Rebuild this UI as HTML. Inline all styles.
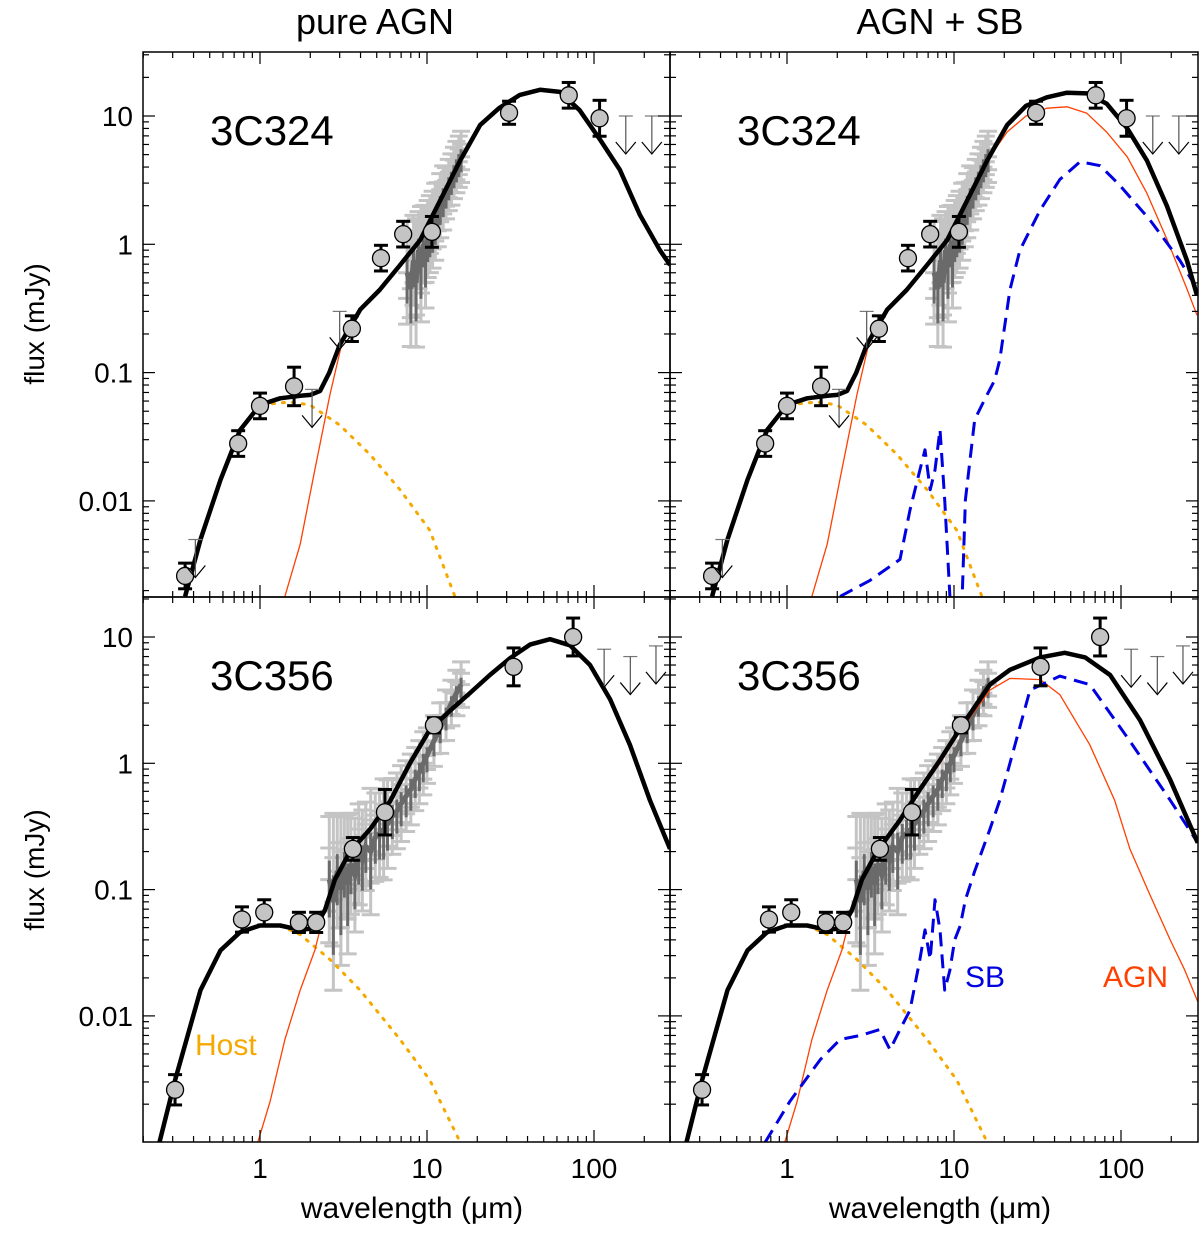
<!DOCTYPE html>
<html><head><meta charset="utf-8"><style>
body{margin:0;background:#fff;}
svg{display:block;font-family:"Liberation Sans",Arial,sans-serif;}
</style></head><body>
<svg id="chart" width="1200" height="1236" viewBox="0 0 1200 1236" xmlns="http://www.w3.org/2000/svg">
<defs>
<clipPath id="cTL"><rect x="143" y="52" width="527" height="545"/></clipPath>
<clipPath id="cTR"><rect x="670" y="52" width="528" height="545"/></clipPath>
<clipPath id="cBL"><rect x="143" y="597" width="527" height="545"/></clipPath>
<clipPath id="cBR"><rect x="670" y="597" width="528" height="545"/></clipPath>
</defs>
<text x="375" y="34" font-size="36" text-anchor="middle">pure AGN</text>
<text x="940" y="34" font-size="36" text-anchor="middle">AGN + SB</text>
<text transform="translate(44,324) rotate(-90)" font-size="28" text-anchor="middle">flux (mJy)</text>
<text transform="translate(44,870) rotate(-90)" font-size="28" text-anchor="middle">flux (mJy)</text>
<text x="412" y="1218" font-size="30" text-anchor="middle">wavelength (μm)</text>
<text x="940" y="1218" font-size="30" text-anchor="middle">wavelength (μm)</text>
<g id="plots"></g>
</svg>
<script>
// ---------- data ----------
const topBlackLam=[0.356,0.44,0.58,0.76,1,1.32,1.74,2.0,2.29,2.6,3.0,3.98,5.2,6.9,9.1,12,15.8,20.8,27,36,47.5,62.5,82,109,143,188,248,285];
const topBlackFlux=[0.0018,0.005,0.0146,0.0357,0.056,0.063,0.066,0.067,0.072,0.1,0.164,0.31,0.44,0.69,1.08,2.2,4.5,8.5,11.5,14.6,16.0,15.4,11.1,6.5,3.8,1.7,0.9,0.69];
const topBlackRFlux=[0.0018,0.005,0.0146,0.0357,0.056,0.063,0.066,0.067,0.072,0.1,0.164,0.31,0.44,0.69,1.08,2.2,4.5,8.5,12,14,15.2,15,12.5,8,4.5,2.0,0.75,0.4];
const topHostLam=[0.356,0.44,0.58,0.76,1,1.51,1.99,3.0,4.56,6.9,10.4,14.7];
const topHostFlux=[0.0018,0.005,0.0146,0.0357,0.056,0.059,0.056,0.039,0.023,0.0122,0.0059,0.0018];
const topAgnLam=[1.41,1.74,2.13,2.62,3.23,3.98,5.2,6.9,9.1,12,15.8,20.8,27,36,47.5,62.5,82,109,143,188,248,285];
const topAgnFlux=[0.0018,0.0046,0.0174,0.067,0.215,0.31,0.44,0.69,1.08,2.2,4.5,8.5,11.5,14.6,16.0,15.4,11.1,6.5,3.8,1.7,0.9,0.69];
const topAgnRFlux=[0.0018,0.0046,0.0174,0.067,0.215,0.31,0.44,0.69,1.08,2.2,4.5,7.5,10,11.5,11.8,10.5,7.5,4.8,2.5,1.1,0.45,0.28];
const topSbLam=[2.08,3.14,4.75,5.45,6.25,6.7,7.2,7.7,8.25,8.8,9.45,10.1,11.2,11.7,13.3,15.3,17.5,18.8,21.6,24.8,32.8,43,57,75,98,149,225,288];
const topSbFlux=[0.0018,0.0024,0.0035,0.0085,0.0174,0.025,0.0122,0.0174,0.036,0.0102,0.0018,0.0008,0.0018,0.0102,0.043,0.062,0.087,0.126,0.44,0.9,1.85,3.2,4.4,4.1,2.9,1.55,0.75,0.44];
const topPtLam=[0.356,0.74,1.0,1.6,3.55,5.3,7.2,10.7,31,70.6,108];
const topPtFlux=[0.0026,0.028,0.055,0.078,0.22,0.78,1.2,1.25,10.6,14.5,9.6];
const topPtErr=[0.1,0.1,0.1,0.15,0.1,0.1,0.1,0.12,0.09,0.1,0.14];
const topLimLam=[0.41,2.05,3.0,155,222];
const topLimFlux=[0.005,0.074,0.3,10,10];
const topSpecLam=[7.6,8.0,8.3,8.6,8.9,9.2,9.5,9.8,10.1,10.4,10.8,11.2,11.6,12,12.5,13,13.5,14,14.5,15,15.5,16];
const topSpecFlux=[0.6,0.45,0.75,0.5,0.9,0.7,1.0,0.8,1.1,1.2,1.3,1.5,1.7,2.0,2.3,2.5,2.9,3.2,3.6,4.0,4.4,4.8];
const topSpecErr=[0.4,0.45,0.35,0.5,0.3,0.45,0.3,0.4,0.3,0.3,0.3,0.3,0.25,0.25,0.25,0.2,0.2,0.2,0.2,0.2,0.2,0.2];

const botBlackLam=[0.25,0.31,0.44,0.58,0.76,1,1.32,1.74,2.13,2.45,2.81,3.46,4.56,6.0,7.9,10.4,13.7,18.1,23.8,31.4,41.4,54.5,71.8,94.6,125,164,216,285];
const botBlackFlux=[0.001,0.0031,0.016,0.033,0.046,0.052,0.052,0.048,0.0495,0.069,0.12,0.2,0.3,0.5,1.0,1.85,2.6,3.6,5.0,6.8,8.7,9.6,8.6,6.0,3.2,1.4,0.51,0.21];
const botBlackRLam=[0.25,0.31,0.44,0.58,0.76,1,1.32,1.74,2.13,2.45,2.81,3.46,4.75,6.25,8.25,11.2,16.4,21.6,32.8,46,61,86,130,197,288];
const botBlackRFlux=[0.001,0.0031,0.016,0.033,0.046,0.052,0.052,0.048,0.0495,0.069,0.12,0.2,0.356,0.62,1.06,2.0,4.2,5.5,6.9,7.5,6.9,5.0,2.2,0.74,0.235];
const botHostLam=[0.25,0.31,0.44,0.58,0.76,1,1.32,1.74,2.62,3.97,6.9,10.4,15.8];
const botHostFlux=[0.001,0.0031,0.016,0.033,0.046,0.052,0.052,0.044,0.028,0.016,0.0065,0.0031,0.001];
const botAgnLam=[0.97,1.15,1.41,1.74,2.13,2.45,2.81,3.46,4.56,6.0,7.9,10.4,13.7,18.1,23.8,31.4,41.4,54.5,71.8,94.6,125,164,216,285];
const botAgnFlux=[0.001,0.0021,0.0065,0.016,0.033,0.069,0.12,0.2,0.3,0.5,1.0,1.85,2.6,3.6,5.0,6.8,8.7,9.6,8.6,6.0,3.2,1.4,0.51,0.21];
const botAgnRLam=[0.97,1.15,1.41,1.74,2.13,2.45,2.81,3.46,4.75,6.25,8.25,11.2,16.4,21.6,32.8,43,65,91.6,113,149,197,241,288];
const botAgnRFlux=[0.001,0.0021,0.0065,0.016,0.033,0.069,0.12,0.2,0.356,0.6,1.0,1.9,3.8,4.7,4.6,3.5,1.4,0.51,0.21,0.091,0.04,0.023,0.013];
const botSbLam=[0.74,1.04,1.58,2.08,2.74,3.6,4.14,4.75,5.45,6.25,6.7,7.2,7.7,8.25,8.8,9.45,10.1,10.9,11.7,13.3,16.4,18.8,28.5,43,65,113,197,288];
const botSbFlux=[0.001,0.0021,0.0045,0.0065,0.007,0.0078,0.0054,0.0078,0.0111,0.028,0.048,0.028,0.083,0.048,0.016,0.023,0.04,0.052,0.083,0.14,0.3,0.51,3.8,4.9,4.2,1.5,0.51,0.235];
const botPtLam=[0.31,0.78,1.06,1.71,2.17,3.6,5.6,11,33,75];
const botPtFlux=[0.0026,0.058,0.066,0.055,0.055,0.21,0.41,2.0,5.8,10];
const botPtErr=[0.12,0.1,0.1,0.08,0.08,0.09,0.18,0.06,0.15,0.15];
const botLimLam=[115,165,235];
const botLimFlux=[8,7,8.5];
const botSpecLam=[2.6,2.75,2.9,3.05,3.2,3.35,3.5,3.7,3.9,4.1,4.3,4.6,4.9,5.2,5.5,5.8,6.2,6.6,7.0,7.5,8.0,8.5,9.0,9.5,10,11,12,13,14,15,16];
const botSpecFlux=[0.12,0.08,0.14,0.1,0.15,0.11,0.16,0.13,0.19,0.17,0.22,0.2,0.26,0.28,0.3,0.33,0.38,0.42,0.48,0.55,0.62,0.75,0.85,1.0,1.15,1.5,1.9,2.4,3.0,3.6,4.2];
const botSpecErr=[0.5,0.7,0.45,0.6,0.4,0.55,0.4,0.45,0.4,0.4,0.35,0.5,0.35,0.35,0.4,0.35,0.3,0.3,0.3,0.28,0.28,0.25,0.25,0.25,0.22,0.2,0.2,0.2,0.18,0.18,0.18];

// ---------- drawing ----------
const NS='http://www.w3.org/2000/svg';
const root=document.getElementById('plots');
function mk(tag,attrs,parent){const e=document.createElementNS(NS,tag);for(const k in attrs)e.setAttribute(k,attrs[k]);(parent||root).appendChild(e);return e;}
const panels={
 TL:{x0:143,x1:670,y0:52,y1:597,one:260,ten:116,dec:128.3},
 TR:{x0:670,x1:1198,y0:52,y1:597,one:787,ten:116,dec:128.3},
 BL:{x0:143,x1:670,y0:597,y1:1142,one:260,ten:637,dec:126.3},
 BR:{x0:670,x1:1198,y0:597,y1:1142,one:787,ten:637,dec:126.3}};
const XD=167;
function xs(p,l){return p.one+XD*Math.log10(l);}
function ys(p,f){return p.ten+p.dec*(1-Math.log10(f));}
function line(p,g,lam,flux,style,name){
 const pts=lam.map((l,i)=>xs(p,l).toFixed(1)+','+ys(p,flux[i]).toFixed(1)).join(' ');
 const e=mk('polyline',Object.assign({points:pts,fill:'none','stroke-linejoin':'round'},style),g);
 
 
}
function spectrum(p,g,lam,flux,err,name){
 const sg=mk('g',{},g);
 
 
 lam.forEach((l,i)=>{
  const x=xs(p,l);
  const yt=ys(p,flux[i]*Math.pow(10,err[i])),yb=ys(p,flux[i]/Math.pow(10,err[i]));
  mk('line',{x1:x,x2:x,y1:yt,y2:yb,stroke:'#c4c4c4','stroke-width':3},sg);
  for(let k=0;k<=4;k++){const yy=yt+(yb-yt)*k/4;
   mk('line',{x1:x-9,x2:x+9,y1:yy,y2:yy,stroke:'#c4c4c4','stroke-width':3},sg);}
 });
 const inner=lam.map((l,i)=>xs(p,l).toFixed(1)+','+ys(p,flux[i]).toFixed(1)).join(' ');
 mk('polyline',{points:inner,fill:'none',stroke:'#6a6a6a','stroke-width':5},sg);
 lam.forEach((l,i)=>{const x=xs(p,l);mk('line',{x1:x,x2:x,y1:ys(p,flux[i]*Math.pow(10,err[i]*0.3)),y2:ys(p,flux[i]/Math.pow(10,err[i]*0.6)),stroke:'#6a6a6a','stroke-width':3},sg);});
}
function points(p,g,lam,flux,err,name){
 lam.forEach((l,i)=>{
  const x=xs(p,l),y=ys(p,flux[i]);
  const pg=mk('g',{},g);
  
  
  const yt=ys(p,flux[i]*Math.pow(10,err[i])),yb=ys(p,flux[i]/Math.pow(10,err[i]));
  mk('line',{x1:x,x2:x,y1:yt,y2:yb,stroke:'#000','stroke-width':3},pg);
  mk('line',{x1:x-7,x2:x+7,y1:yt,y2:yt,stroke:'#000','stroke-width':3},pg);
  mk('line',{x1:x-7,x2:x+7,y1:yb,y2:yb,stroke:'#000','stroke-width':3},pg);
  mk('circle',{cx:x,cy:y,r:8.5,fill:'#c4c4c4',stroke:'#000','stroke-width':1.3},pg);
 });
}
function limits(p,g,lam,flux,name){
 lam.forEach((l,i)=>{
  const x=xs(p,l),y=ys(p,flux[i]);
  const lg=mk('g',{},g);
  
  
  mk('line',{x1:x-7,x2:x+7,y1:y,y2:y,stroke:'#777','stroke-width':1.2},lg);
  mk('line',{x1:x,x2:x,y1:y,y2:y+38,stroke:'#555','stroke-width':1.2},lg);
  mk('polyline',{points:`${x-10},${y+26} ${x},${y+38} ${x+10},${y+26}`,fill:'none',stroke:'#000','stroke-width':1.2},lg);
 });
}
function axes(p,key,g){
 const ax=mk('g',{},g);
 
 
 mk('rect',{x:p.x0,y:p.y0,width:p.x1-p.x0,height:p.y1-p.y0,fill:'none',stroke:'#000','stroke-width':1.5},ax);
 for(let d=-1;d<=2;d++)for(let m=1;m<=9;m++){
  const x=xs(p,m*Math.pow(10,d));if(x<p.x0||x>p.x1)continue;
  const L=m==1?12:6;
  mk('line',{x1:x,x2:x,y1:p.y1,y2:p.y1-L,stroke:'#000','stroke-width':1.2},ax);
  mk('line',{x1:x,x2:x,y1:p.y0,y2:p.y0+L,stroke:'#000','stroke-width':1.2},ax);
 }
 for(let d=-4;d<=1;d++)for(let m=1;m<=9;m++){
  const y=ys(p,m*Math.pow(10,d));if(y<p.y0||y>p.y1)continue;
  const L=m==1?12:6;
  mk('line',{x1:p.x0,x2:p.x0+L,y1:y,y2:y,stroke:'#000','stroke-width':1.2},ax);
  mk('line',{x1:p.x1,x2:p.x1-L,y1:y,y2:y,stroke:'#000','stroke-width':1.2},ax);
 }
}
const xTicks=[1,10,100],xTickLabels=['1','10','100'];
const yTicks=[10,1,0.1,0.01],yTickLabels=['10','1','0.1','0.01'];

function panel(key,o){
 const p=panels[key];
 const g=mk('g',{'clip-path':'url(#c'+key+')'});
 
 
 spectrum(p,g,o.specLam,o.specFlux,o.specErr,'irs-spectrum');
 line(p,g,o.hostLam,o.hostFlux,{stroke:'#f5a800','stroke-width':3,'stroke-dasharray':'2 8','stroke-linecap':'round'},'host-curve');
 line(p,g,o.agnLam,o.agnFlux,{stroke:'#ff4000','stroke-width':1.3},'agn-curve');
 if(o.sbLam)line(p,g,o.sbLam,o.sbFlux,{stroke:'#0000e0','stroke-width':3,'stroke-dasharray':'14 8'},'sb-curve');
 line(p,g,o.blackLam,o.blackFlux,{stroke:'#000','stroke-width':4.5},'total-model-curve');
 points(p,g,o.ptLam,o.ptFlux,o.ptErr,'photometry-point');
 limits(p,g,o.limLam,o.limFlux,'upper-limit');
 axes(p,key,root);
 const t=mk('text',{x:p.x0+67,y:p.y0+93,'font-size':42});
 t.textContent=o.label;
 
 
 if(key[1]=='L'){
  yTicks.forEach((v,i)=>{const y=ys(p,v);if(y<p.y0+5||y>p.y1-5)return;
   const tt=mk('text',{x:p.x0-10,y:y+10,'font-size':28,'text-anchor':'end'});tt.textContent=yTickLabels[i];
   
   });
 }
 if(key[0]=='B'){
  xTicks.forEach((v,i)=>{const tt=mk('text',{x:xs(p,v),y:p.y1+36,'font-size':28,'text-anchor':'middle'});tt.textContent=xTickLabels[i];
   
   });
 }
}
const topCommon={specLam:topSpecLam,specFlux:topSpecFlux,specErr:topSpecErr,hostLam:topHostLam,hostFlux:topHostFlux,ptLam:topPtLam,ptFlux:topPtFlux,ptErr:topPtErr,limLam:topLimLam,limFlux:topLimFlux,label:'3C324'};
panel('TL',Object.assign({},topCommon,{agnLam:topAgnLam,agnFlux:topAgnFlux,blackLam:topBlackLam,blackFlux:topBlackFlux}));
panel('TR',Object.assign({},topCommon,{agnLam:topAgnLam,agnFlux:topAgnRFlux,blackLam:topBlackLam,blackFlux:topBlackRFlux,sbLam:topSbLam,sbFlux:topSbFlux}));
const botCommon={specLam:botSpecLam,specFlux:botSpecFlux,specErr:botSpecErr,hostLam:botHostLam,hostFlux:botHostFlux,ptLam:botPtLam,ptFlux:botPtFlux,ptErr:botPtErr,limLam:botLimLam,limFlux:botLimFlux,label:'3C356'};
panel('BL',Object.assign({},botCommon,{agnLam:botAgnLam,agnFlux:botAgnFlux,blackLam:botBlackLam,blackFlux:botBlackFlux}));
panel('BR',Object.assign({},botCommon,{agnLam:botAgnRLam,agnFlux:botAgnRFlux,blackLam:botBlackRLam,blackFlux:botBlackRFlux,sbLam:botSbLam,sbFlux:botSbFlux}));

function label(txt,x,y,c,name){const t=mk('text',{x:x,y:y,'font-size':30,fill:c});t.textContent=txt;
 
 }
label('Host',195,1055,'#f5a800','host-label');
label('SB',965,987,'#0000e0','sb-label');
label('AGN',1103,987,'#ff4000','agn-label');
</script>
</body></html>
